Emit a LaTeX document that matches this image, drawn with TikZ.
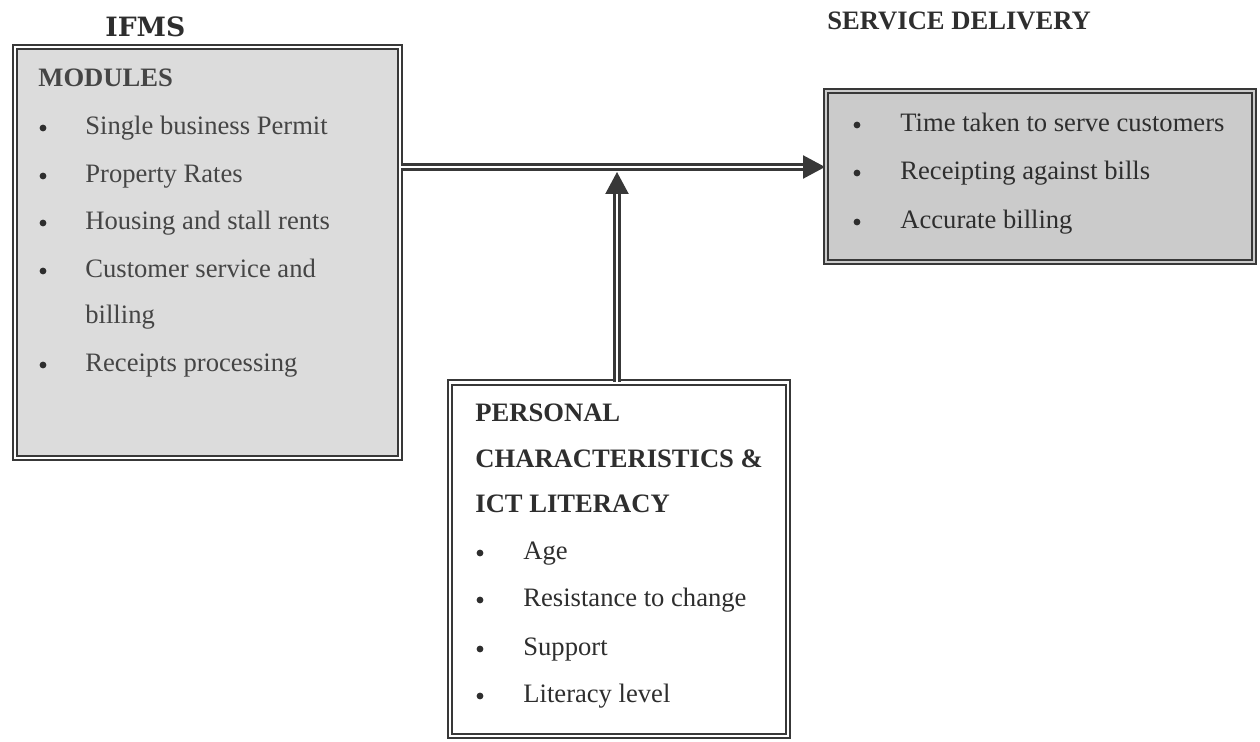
\documentclass[tikz,border=0pt]{standalone}
\usepackage{fontspec}
\setmainfont{Liberation Serif}
\newfontfamily\slabfont{DejaVu Serif}
\usetikzlibrary{arrows.meta}
\definecolor{ink}{HTML}{2E2E2E}
\definecolor{inkl}{HTML}{454545}
\definecolor{frameink}{HTML}{383838}
\definecolor{fillL}{HTML}{DCDCDC}
\definecolor{fillR}{HTML}{CBCBCB}
\begin{document}
\begin{tikzpicture}[x=0.5pt,y=-0.5pt,
  font=\fontsize{13.3}{16}\selectfont,
  txt/.style={anchor=base west, inner sep=0pt, text=ink},
  txtl/.style={txt, text=inkl},
  bul/.style={circle, fill=ink, inner sep=0pt, minimum size=3.4pt},
  hd/.style={txt, font=\fontsize{13.3}{16}\selectfont\bfseries},
  frame/.style={draw=frameink, double distance=1.4pt, line width=0.95pt, inner sep=0pt},
  conn/.style={draw=frameink, double=white, double distance=1.4pt, line width=1.1pt,
    -{Triangle[length=11pt,width=11.5pt]}}]
\useasboundingbox (0,0) rectangle (1260,742);
\fill[white] (0,0) rectangle (1260,742);

% boxes
\node[frame, fill=fillL, double=white, minimum width=192.5pt, minimum height=205.5pt] (L) at (207.5,252.5) {};
\node[frame, fill=fillR, double=fillR, minimum width=214pt, minimum height=85.5pt] (R) at (1040,176.5) {};
\node[frame, fill=white, double=white, minimum width=169pt, minimum height=176.75pt] (B) at (619,559.25) {};

% titles
\node[txt, font=\slabfont\fontsize{13.3}{16}\selectfont\bfseries] (ifms) at (105,37) {IFMS};
\node[hd] (sd) at (827,30) {SERVICE DELIVERY};

% left box
\node[hd, text=inkl] (mod) at (38,87) {MODULES};
\node[bul] (lb1) at (43,128) {};
\node[txtl] (lt1) at (85,135) {Single business Permit};
\node[bul] (lb2) at (43,176) {};
\node[txtl] (lt2) at (85,183) {Property Rates};
\node[bul] (lb3) at (43,223) {};
\node[txtl] (lt3) at (85,230) {Housing and stall rents};
\node[bul] (lb4) at (43,271) {};
\node[txtl] (lt4) at (85,278) {Customer service and};
\node[txtl] (lt4b) at (85,324) {billing};
\node[bul] (lb5) at (43,365) {};
\node[txtl] (lt5) at (85,372) {Receipts processing};

% right box
\node[bul] (rb1) at (857,125) {};
\node[txt] (rt1) at (900,132) {Time taken to serve customers};
\node[bul] (rb2) at (857,173) {};
\node[txt] (rt2) at (900,180) {Receipting against bills};
\node[bul] (rb3) at (857,222) {};
\node[txt] (rt3) at (900,229) {Accurate billing};

% bottom box
\node[hd] (bh1) at (475,422) {PERSONAL};
\node[hd] (bh2) at (475,468) {CHARACTERISTICS \&};
\node[hd] (bh3) at (475,513) {ICT LITERACY};
\node[bul] (bb1) at (480,553) {};
\node[txt] (bt1) at (523,560) {Age};
\node[bul] (bb2) at (480,600) {};
\node[txt] (bt2) at (523,607) {Resistance to change};
\node[bul] (bb3) at (480,649) {};
\node[txt] (bt3) at (523,656) {Support};
\node[bul] (bb4) at (480,696) {};
\node[txt] (bt4) at (523,703) {Literacy level};

% connectors
\coordinate (hy) at (0,167);
\coordinate (jn) at (617,172);
\draw[conn] (L.east |- hy) -- (R.west |- hy);
\draw[conn] (jn |- B.north) -- (jn);
\end{tikzpicture}
\end{document}
